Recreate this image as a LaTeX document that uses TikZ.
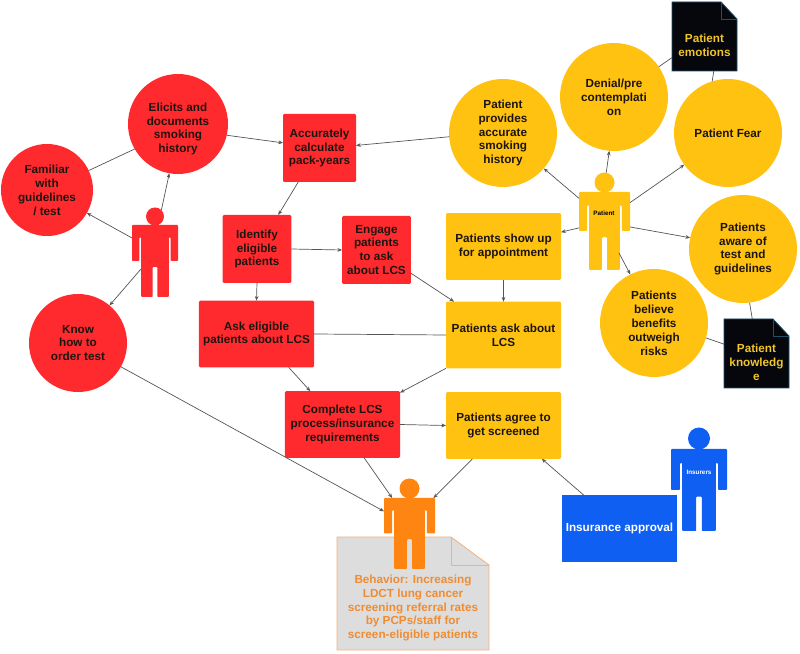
\documentclass[tikz,border=0pt]{standalone}
\usepackage{fontspec}
\setmainfont{Liberation Sans}
\usepackage{xcolor}
\usetikzlibrary{arrows.meta, positioning}

\definecolor{hfred}{HTML}{FF2A2E}
\definecolor{hfyellow}{HTML}{FFC211}
\definecolor{hforange}{HTML}{FF8512}
\definecolor{hfblue}{HTML}{0F5FF2}
\definecolor{hfink}{HTML}{1C1410}
\definecolor{hfline}{HTML}{555555}
\definecolor{hfsheet}{HTML}{DDDDDD}
\definecolor{hfsheetedge}{HTML}{F2B27C}
\definecolor{hfsheettext}{HTML}{F08C32}
\definecolor{hfnote}{HTML}{05070C}
\definecolor{hfnoteedge}{HTML}{1F4E6E}
\definecolor{hfnotetext}{HTML}{F0C52C}

\tikzset{
  txt/.style={font=\bfseries\fontsize{10}{11.9}\selectfont, text=hfink, align=center, inner sep=0pt, outer sep=0pt},
  redcirc/.style={txt, circle, fill=hfred},
  yelcirc/.style={txt, circle, fill=hfyellow, minimum size=3.24cm},
  redbox/.style={txt, rectangle, rounded corners=1pt, fill=hfred},
  yelbox/.style={txt, rectangle, rounded corners=1pt, fill=hfyellow, minimum width=3.45cm, minimum height=2cm},
  wide/.style={minimum width=3.45cm, minimum height=2cm},
  small/.style={minimum width=2.06cm, minimum height=2.04cm},
  notebox/.style={inner sep=0pt, outer sep=0pt, minimum width=1.95cm, minimum height=2.07cm},
  notepaper/.style={fill=hfnote, draw=hfnoteedge, line width=0.7pt},
  conn/.style={draw=hfline, line width=0.6pt},
  arr/.style={conn, -{Stealth[length=4pt,width=3.2pt]}},
  fig/.style={font=\bfseries\fontsize{5.4}{6}\selectfont, inner sep=0pt}
}

% name, centre x, shoulder y, width, height, colour, head radius
\newcommand{\person}[7]{
  \begin{scope}[shift={(#2-#4/2,#3)}, x=#4*0.03cm, y=-#5*0.03cm]
    \fill[#6, rounded corners=0.8pt] (0,0) -- (1,0) -- (1,.5) -- (.84,.5) -- (.84,.17) -- (.8,.17)
      -- (.8,1) -- (.55,1) -- (.55,.58) -- (.45,.58) -- (.45,1) -- (.2,1)
      -- (.2,.17) -- (.16,.17) -- (.16,.5) -- (0,.5) -- cycle;
  \end{scope}
  \node[inner sep=0pt, outer sep=0pt, minimum width=#4*0.03cm, minimum height=#5*0.03cm] (#1) at (#2,#3+#5/2) {};
  \node[circle, fill=#6, inner sep=0pt, outer sep=0pt, minimum size=2*#7*0.03cm] (#1head) at (#2,#3-#7+0.5) {};
}

\begin{document}
\begin{tikzpicture}[x=0.03cm, y=-0.03cm]
  \useasboundingbox (0,0) rectangle (800,654);

  % Clinician side
  \node[redcirc, minimum size=3cm] (elicit) at (178,124) {};
  \node[txt] (elicittext) at (178,129) {Elicits and\\documents\\smoking\\history};
  \node[redcirc, minimum size=2.76cm] (familiar) at (47,190) {Familiar\\with\\guidelines\\/ test};
  \node[redcirc, minimum size=2.94cm] (order) at (78,343) {Know\\how to\\order test};
  \node[redbox, minimum width=2.19cm, minimum height=2.04cm] (packyears) at (319.5,148) {Accurately\\calculate\\pack-years};
  \node[redbox, small] (identify) at (257,249) {Identify\\eligible\\patients};
  \node[redbox, small] (engage) at (376.5,250) {Engage\\patients\\to ask\\about LCS};
  \node[redbox, wide] (askelig) at (256.5,334) {Ask eligible\\patients about LCS};
  \node[redbox, wide] (complete) at (342.5,424.5) {Complete LCS\\process/insurance\\requirements};

  % Patient side
  \node[yelcirc] (accurate) at (503,133) {Patient\\provides\\accurate\\smoking\\history};
  \node[yelcirc] (denial) at (614,97) {Denial/pre\\contemplati\\on};
  \node[yelcirc] (fear) at (728,133) {Patient Fear};
  \node[yelcirc] (aware) at (743,249) {Patients\\aware of\\test and\\guidelines};
  \node[yelcirc] (believe) at (654,323) {Patients\\believe\\benefits\\outweigh\\risks};
  \node[yelbox] (showup) at (503.5,246.5) {Patients show up\\for appointment};
  \node[yelbox] (askabout) at (503.5,335) {Patients ask about\\LCS};
  \node[yelbox] (agree) at (503.5,425.5) {Patients agree to\\get screened};

  % Notes
  \draw[notepaper] (672,2) -- (721,2) -- (737,19) -- (737,71) -- (672,71) -- cycle;
  \draw[hfnoteedge, line width=0.7pt] (721,2) -- (721,19) -- (737,19);
  \node[notebox] (emotions) at (704.5,36.5) {};
  \node[txt, text=hfnotetext] (emotionstext) at (704.5,45) {Patient\\emotions};
  \draw[notepaper] (724,319) -- (773,319) -- (789,336) -- (789,388) -- (724,388) -- cycle;
  \draw[hfnoteedge, line width=0.7pt] (773,319) -- (773,336) -- (789,336);
  \node[notebox] (knowledge) at (756.5,353.5) {};
  \node[txt, text=hfnotetext] (knowledgetext) at (756.5,362) {Patient\\knowledg\\e};

  % Behavior sheet
  \draw[fill=hfsheet, draw=hfsheetedge, line width=0.7pt] (337,537) -- (451,537) -- (489,565) -- (489,650) -- (337,650) -- cycle;
  \draw[hfsheetedge, line width=0.7pt] (451,537) -- (451,565) -- (489,565);
  \node[txt, text=hfsheettext] (behavior) at (413,608) {Behavior: Increasing\\LDCT lung cancer\\screening referral rates\\by PCPs/staff for\\screen-eligible patients};

  % Insurance
  \person{insurer}{699}{449}{56}{82}{hfblue}{11}
  \node[fig, text=white] (insurerlabel) at (699,472) {Insurers};
  \node[txt, text=white, rectangle, fill=hfblue, wide] (approval) at (619.5,528.5) {Insurance approval};

  % People
  \person{clinician}{155}{225}{46}{72}{hfred}{9}
  \person{patient}{604.5}{192}{51}{78}{hfyellow}{10}
  \node[fig] (patientlabel) at (604,213) {Patient};
  \person{target}{409.5}{498}{51}{71}{hforange}{10}
  \coordinate (clinicianleg) at (141,269);
  \coordinate (patientleg) at (619,253);

  % Connectors on the left
  \draw[conn] (familiar.25) -- (elicit.210);
  \draw[arr] (clinicianhead.45) -- (elicit.260);
  \draw[arr] (clinician.135) -- (familiar.-30);
  \draw[arr] (clinicianleg) -- (order.50);
  \draw[arr] (order.-29) -- (target.139);
  \draw[arr] (elicit.-13) -- (packyears.172);
  \draw[arr] (packyears.238) -- (identify.58);
  \draw[arr] (identify.east) -- (engage.west);
  \draw[arr] (identify.south) -- (askelig.north);
  \draw[conn] (askelig.east) -- (askabout.west);
  \draw[arr] (engage.-34) -- (askabout.146);
  \draw[arr] (askelig.-46) -- (complete.134);
  \draw[arr] (complete.east) -- (agree.west);
  \draw[arr] (complete.-57) -- (target.116);

  % Connectors on the right
  \draw[arr] (accurate.184) -- (packyears.4);
  \draw[arr] (patient.128) -- (accurate.-41);
  \draw[arr] (patienthead.80) -- (denial.265);
  \draw[arr] (patient.48) -- (fear.216);
  \draw[arr] (patient.9) -- (aware.168);
  \draw[arr] (patient.173) -- (showup.14);
  \draw[arr] (patientleg) -- (believe.116);
  \draw[arr] (showup.south) -- (askabout.north);
  \draw[arr] (askabout.south west) -- (complete.29);
  \draw[arr] (agree.227) -- (target.56);
  \draw[arr] (approval.137) -- (agree.-41);
  \draw[conn] (denial.34) -- (emotions.213);
  \draw[conn] (fear.107) -- (emotions.-75);
  \draw[conn] (aware.-83) -- (knowledge.97);
  \draw[conn] (believe.-16) -- (knowledge.164);
\end{tikzpicture}
\end{document}
